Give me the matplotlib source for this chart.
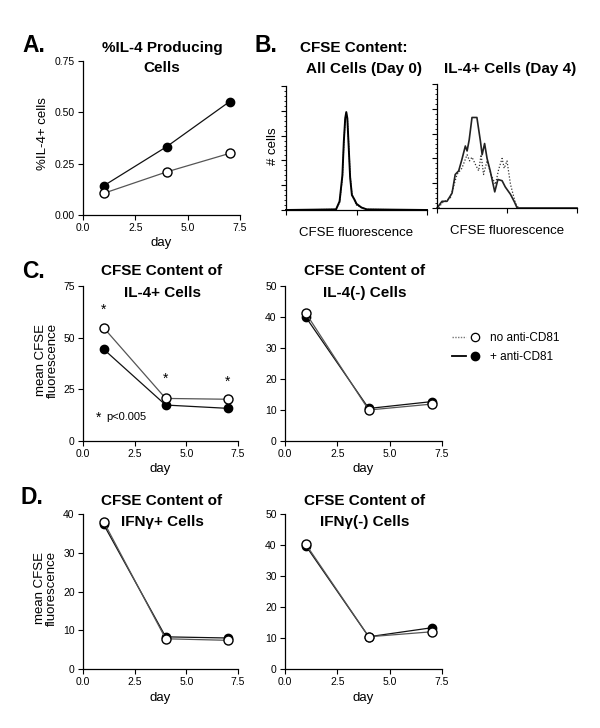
import numpy as np
import matplotlib
matplotlib.use("Agg")
import matplotlib.pyplot as plt
from matplotlib.lines import Line2D
from matplotlib.legend_handler import HandlerTuple
from matplotlib.ticker import MultipleLocator, LogLocator, NullFormatter

plt.rcParams['font.family'] = ['Liberation Sans', 'DejaVu Sans']

# ---- data ----
days = [1, 4, 7]

il4_pct_no = [0.106, 0.21, 0.30]
il4_pct_anti = [0.143, 0.333, 0.552]

il4pos_no = [54.8, 20.6, 20.2]
il4pos_anti = [44.4, 17.4, 15.8]
il4neg_no = [41.2, 10.0, 11.9]
il4neg_anti = [39.9, 10.5, 12.7]

ifnpos_no = [38.0, 7.8, 7.4]
ifnpos_anti = [37.3, 8.3, 8.0]
ifnneg_no = [40.2, 10.4, 12.0]
ifnneg_anti = [39.7, 10.4, 13.3]

star_days = [1, 4, 7]
star_y = [63.4, 30.0, 28.5]

# histograms: log10 channel vs normalised count
d0_log = [0, 1.42, 1.52, 1.60, 1.64, 1.68, 1.71, 1.74, 1.78, 1.82, 1.87, 1.95, 2.0, 2.14, 2.29, 4.0]
d0_solid = [0, 0.005, 0.07, 0.28, 0.55, 0.74, 0.79, 0.74, 0.50, 0.26, 0.12, 0.08, 0.05, 0.02, 0.005, 0]
d0_dotted = [0, 0.005, 0.06, 0.26, 0.53, 0.73, 0.78, 0.75, 0.52, 0.28, 0.13, 0.07, 0.04, 0.02, 0.005, 0]

d4_solid_log = [0, 0.143, 0.286, 0.43, 0.52, 0.62, 0.71, 0.81, 0.86, 0.92, 1.0, 1.14, 1.24, 1.29, 1.36,
                1.43, 1.52, 1.65, 1.74, 1.86, 1.95, 2.10, 2.21, 2.29, 4.0]
d4_solid = [0, 0.054, 0.054, 0.12, 0.27, 0.30, 0.39, 0.50, 0.46, 0.55, 0.73, 0.73, 0.54, 0.43, 0.52,
            0.40, 0.30, 0.13, 0.23, 0.22, 0.17, 0.11, 0.05, 0, 0]
d4_dot_log = [0.05, 0.14, 0.38, 0.57, 0.71, 0.86, 0.93, 1.0, 1.10, 1.19, 1.26, 1.33, 1.43, 1.54,
              1.67, 1.76, 1.86, 1.92, 2.0, 2.10, 2.24, 2.33]
d4_dotted = [0, 0.04, 0.08, 0.27, 0.32, 0.43, 0.38, 0.41, 0.35, 0.30, 0.43, 0.27, 0.38, 0.27,
             0.19, 0.31, 0.40, 0.32, 0.38, 0.19, 0.04, 0]

W, H = 600, 728
fig = plt.figure(figsize=(6, 7.28), dpi=100)


def box(l, t, r, b):
    return [l / W, 1 - b / H, (r - l) / W, (b - t) / H]


def ftext(x, y, s, **kw):
    fig.text(x / W, 1 - y / H, s, **kw)


def style(ax):
    for s in ['top', 'right']:
        ax.spines[s].set_visible(False)
    for s in ['left', 'bottom']:
        ax.spines[s].set_linewidth(0.9)
    ax.tick_params(direction='out', length=3.5, width=0.8, labelsize=7.5, pad=2.5)


def line_panel(rect, no, anti, ymax, ystep):
    ax = fig.add_axes(box(*rect))
    ax.plot(days, anti, '-', color='#111111', lw=0.9, marker='o', ms=6,
            mfc='black', mec='black', clip_on=False, zorder=3)
    ax.plot(days, no, '-', color='#555555', lw=0.9, marker='o', ms=6.5,
            mfc='white', mec='black', mew=1.0, clip_on=False, zorder=4)
    ax.set_xlim(0, 7.5)
    ax.set_ylim(0, ymax)
    ax.xaxis.set_major_locator(MultipleLocator(2.5))
    ax.xaxis.set_major_formatter(matplotlib.ticker.FormatStrFormatter('%.1f'))
    ax.yaxis.set_major_locator(MultipleLocator(ystep))
    style(ax)
    return ax


# ---- A ----
axA = line_panel((83, 61, 240, 215), il4_pct_no, il4_pct_anti, 0.75, 0.25)
axA.yaxis.set_major_formatter(matplotlib.ticker.FormatStrFormatter('%.2f'))
ftext(43, 134, '%IL-4+ cells', rotation=90, ha='center', va='center', fontsize=9.5)
ftext(161, 243, 'day', ha='center', va='center', fontsize=9.5)
ftext(162, 48, '%IL-4 Producing', ha='center', va='center', fontsize=11, fontweight='bold')
ftext(162, 68, 'Cells', ha='center', va='center', fontsize=11, fontweight='bold')
ftext(22, 46, 'A.', ha='left', va='center', fontsize=16.5, fontweight='bold')

# ---- B ----
def hist_panel(rect):
    ax = fig.add_axes(box(*rect))
    ax.set_xscale('log')
    ax.set_xlim(1, 1e4)
    ax.set_ylim(0, 1)
    ax.yaxis.set_major_locator(MultipleLocator(0.2))
    ax.yaxis.set_minor_locator(MultipleLocator(0.04))
    ax.xaxis.set_major_locator(LogLocator(base=10))
    ax.xaxis.set_minor_locator(LogLocator(base=10, subs=np.arange(2, 10)))
    ax.xaxis.set_major_formatter(NullFormatter())
    ax.xaxis.set_minor_formatter(NullFormatter())
    ax.yaxis.set_major_formatter(NullFormatter())
    style(ax)
    ax.tick_params(which='major', length=3.5)
    ax.tick_params(which='minor', length=1.8, width=0.6)
    ax.set_xlabel('CFSE fluorescence', fontsize=9.5, labelpad=6)
    return ax


axB1 = hist_panel((286, 86, 427, 210))
axB1.plot(10 ** np.array(d0_log), d0_dotted, color='#333333', lw=0.9, ls=(0, (1, 1)), clip_on=False)
axB1.plot(10 ** np.array(d0_log), d0_solid, color='black', lw=1.4, clip_on=False)

axB2 = hist_panel((437, 84, 577, 208))
axB2.plot(10 ** np.array(d4_dot_log), d4_dotted, color='#333333', lw=0.9, ls=(0, (1, 1.5)), clip_on=False)
axB2.plot(10 ** np.array(d4_solid_log), d4_solid, color='#222222', lw=1.2, clip_on=False)

ftext(273, 146, '# cells', rotation=90, ha='center', va='center', fontsize=9.5)
ftext(354, 48, 'CFSE Content:', ha='center', va='center', fontsize=11, fontweight='bold')
ftext(364, 69, 'All Cells (Day 0)', ha='center', va='center', fontsize=11, fontweight='bold')
ftext(510, 69, 'IL-4+ Cells (Day 4)', ha='center', va='center', fontsize=11, fontweight='bold')
ftext(254, 46, 'B.', ha='left', va='center', fontsize=16.5, fontweight='bold')

# ---- C ----
axC1 = line_panel((83, 286, 238, 441), il4pos_no, il4pos_anti, 75, 25)
for d, y in zip(star_days, star_y):
    axC1.text(d, y, '*', ha='center', va='center', fontsize=10)
axC1.text(0.73, 11.0, '*', ha='center', va='center', fontsize=10)
axC1.text(1.15, 11.6, 'p<0.005', ha='left', va='center', fontsize=8)
axC2 = line_panel((285, 286, 442, 441), il4neg_no, il4neg_anti, 50, 10)

ftext(47, 360, 'mean CFSE\nfluorescence', rotation=90, ha='center', va='center',
      fontsize=9.5, linespacing=0.95)
ftext(160, 469, 'day', ha='center', va='center', fontsize=9.5)
ftext(363, 469, 'day', ha='center', va='center', fontsize=9.5)
ftext(162, 271, 'CFSE Content of', ha='center', va='center', fontsize=11, fontweight='bold')
ftext(162, 293, 'IL-4+ Cells', ha='center', va='center', fontsize=11, fontweight='bold')
ftext(365, 271, 'CFSE Content of', ha='center', va='center', fontsize=11, fontweight='bold')
ftext(365, 293, 'IL-4(-) Cells', ha='center', va='center', fontsize=11, fontweight='bold')
ftext(22, 271, 'C.', ha='left', va='center', fontsize=16.5, fontweight='bold')

# legend
h_no = (Line2D([], [], ls=(0, (1, 1)), color='#777777', lw=1.0),
        Line2D([], [], ls='none', marker='o', ms=6, mfc='white', mec='black', mew=0.9))
h_anti = (Line2D([], [], ls='-', color='black', lw=1.3),
          Line2D([], [], ls='none', marker='o', ms=6, mfc='black', mec='black'))
fig.legend([h_no, h_anti], ['no anti-CD81', '+ anti-CD81'],
           handler_map={tuple: HandlerTuple(ndivide=2, pad=0.17)},
           loc='upper left', bbox_to_anchor=(452 / W, 1 - 332 / H),
           frameon=False, fontsize=8.5, handlelength=2.5, handletextpad=0.75,
           borderpad=0, borderaxespad=0, labelspacing=0.6)

# ---- D ----
axD1 = line_panel((83, 514, 238, 669), ifnpos_no, ifnpos_anti, 40, 10)
axD2 = line_panel((285, 514, 442, 669), ifnneg_no, ifnneg_anti, 50, 10)
ftext(46, 588, 'mean CFSE\nfluorescence', rotation=90, ha='center', va='center',
      fontsize=9.5, linespacing=0.95)
ftext(160, 698, 'day', ha='center', va='center', fontsize=9.5)
ftext(363, 698, 'day', ha='center', va='center', fontsize=9.5)
ftext(162, 501, 'CFSE Content of', ha='center', va='center', fontsize=11, fontweight='bold')
ftext(162, 522, 'IFN\u03b3+ Cells', ha='center', va='center', fontsize=11, fontweight='bold')
ftext(365, 501, 'CFSE Content of', ha='center', va='center', fontsize=11, fontweight='bold')
ftext(365, 522, 'IFN\u03b3(-) Cells', ha='center', va='center', fontsize=11, fontweight='bold')
ftext(20, 498, 'D.', ha='left', va='center', fontsize=16.5, fontweight='bold')

fig.savefig('out.png', dpi=100, facecolor='white')
